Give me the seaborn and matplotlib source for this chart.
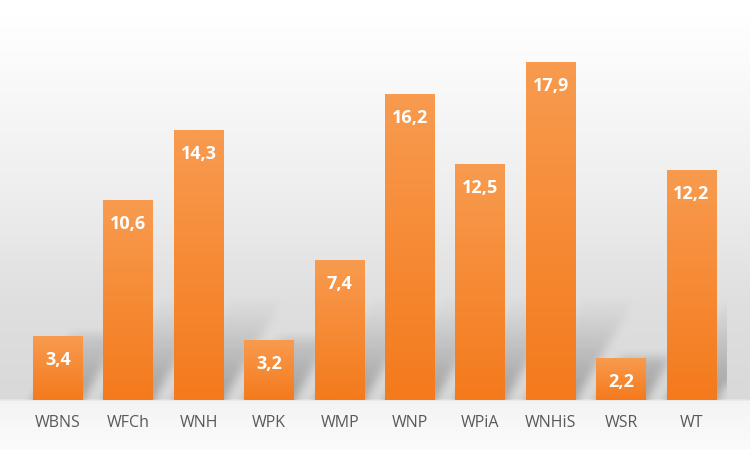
import numpy as np
import matplotlib
matplotlib.use("Agg")
import matplotlib.pyplot as plt
import seaborn as sns
from matplotlib.colors import to_rgb
from matplotlib.path import Path

categories = ["WBNS", "WFCh", "WNH", "WPK", "WMP", "WNP", "WPiA", "WNHiS", "WSR", "WT"]
values = [3.4, 10.6, 14.3, 3.2, 7.4, 16.2, 12.5, 17.9, 2.2, 12.2]
labels = [f"{v:.1f}".replace(".", ",") for v in values]

sns.set_theme(style="white")
plt.rcParams["font.family"] = ["Open Sans", "DejaVu Sans"]

W, H = 750, 450
fig = plt.figure(figsize=(7.5, 4.5), dpi=100)

# background gradient (whole figure)
bg = fig.add_axes([0, 0, 1, 1], zorder=-10)
rows = np.arange(H)
ys = [0, 15, 60, 200, 300, 398, 401, 430, 450]
gs = [1.0, 1.0, 0.985, 0.93, 0.875, 0.85, 0.955, 0.975, 0.985]
g = np.interp(rows, ys, gs)
img = np.repeat(g[:, None], 2, axis=1)
bg.imshow(np.dstack([img, img, img]), aspect="auto", extent=[0, 1, 0, 1])
bg.set_axis_off()

# main axes: baseline at y=400 px
x_unit_px = 70.4
y_unit_px = 18.88
ymax = 20
ax = fig.add_axes([22.8 / W, 50 / H, 704 / W, ymax * y_unit_px / H])
ax.patch.set_alpha(0)

sns.barplot(x=categories, y=values, ax=ax, width=0.71, color="#f58a30",
            saturation=1, zorder=3)
xlo, xhi = -0.5, len(categories) - 0.5
ax.set_xlim(xlo, xhi)
ax.set_ylim(0, ymax)

# ---- soft perspective shadows (derived from the bar patches) ----
nx = int(round((xhi - xlo) * x_unit_px))
ny = int(round(ymax * y_unit_px))
gx = xlo + (np.arange(nx) + 0.5) / x_unit_px
gy = (np.arange(ny) + 0.5) / y_unit_px
GX, GY = np.meshgrid(gx, gy)
pts = np.column_stack([GX.ravel(), GY.ravel()])
shadow = np.zeros(ny * nx)
for p in ax.patches:
    x0 = p.get_x(); w = p.get_width(); h = p.get_height()
    x1 = x0 + w
    s = 0.6 * h * y_unit_px / x_unit_px
    path = Path([(x0, 0), (x1, 0), (x1 + s, h * 1.03), (x0 + s, h * 1.03), (x0, 0)])
    m = path.contains_points(pts).astype(float)
    shadow = np.maximum(shadow, m)
shadow = shadow.reshape(ny, nx)
fade = np.clip(1 - (np.arange(ny) + 0.5) / 105.0, 0, 1) ** 1.1
shadow *= fade[:, None]

def gblur(a, sigma):
    r = int(3 * sigma)
    k = np.exp(-0.5 * (np.arange(-r, r + 1) / sigma) ** 2)
    k /= k.sum()
    a = np.pad(a, ((r, r), (r, r)), mode="edge")
    a = np.apply_along_axis(lambda v: np.convolve(v, k, mode="same"), 1, a)
    a = np.apply_along_axis(lambda v: np.convolve(v, k, mode="same"), 0, a)
    return a[r:-r, r:-r]

shadow = gblur(shadow, 4.5)
rgba = np.zeros((ny, nx, 4))
rgba[..., 3] = 0.27 * shadow
ax.imshow(rgba, extent=[xlo, xhi, 0, ymax], origin="lower", aspect="auto",
          zorder=1, interpolation="bilinear")

# ---- gradient-filled bars ----
top_c = np.array(to_rgb("#f89b4f"))
bot_c = np.array(to_rgb("#f47a1c"))
for p in ax.patches:
    x0 = p.get_x(); w = p.get_width(); h = p.get_height()
    n = 64
    t = np.linspace(0, 1, n)[:, None]
    cols = bot_c[None, :] * (1 - t) + top_c[None, :] * t
    grad = np.repeat(cols[:, None, :], 2, axis=1)
    im = ax.imshow(grad, extent=[x0, x0 + w, 0, h], origin="lower", aspect="auto",
                   zorder=4, interpolation="bilinear")
    im.set_clip_path(p)
    p.set_facecolor("none")
    p.set_edgecolor("none")

for i, (v, lab) in enumerate(zip(values, labels)):
    ax.annotate(lab, xy=(i, v), xytext=(0, -24), textcoords="offset pixels",
                ha="center", va="center", color="white", fontsize=13,
                fontweight="bold", zorder=6)

ax.set_xlim(xlo, xhi)
ax.set_ylim(0, ymax)
ax.set_yticks([])
ax.set_xlabel("")
ax.set_ylabel("")
for sp in ax.spines.values():
    sp.set_visible(False)
ax.tick_params(axis="x", length=0, pad=11, labelsize=11.5, labelcolor="#595959")

fig.savefig("out.png", dpi=100)
